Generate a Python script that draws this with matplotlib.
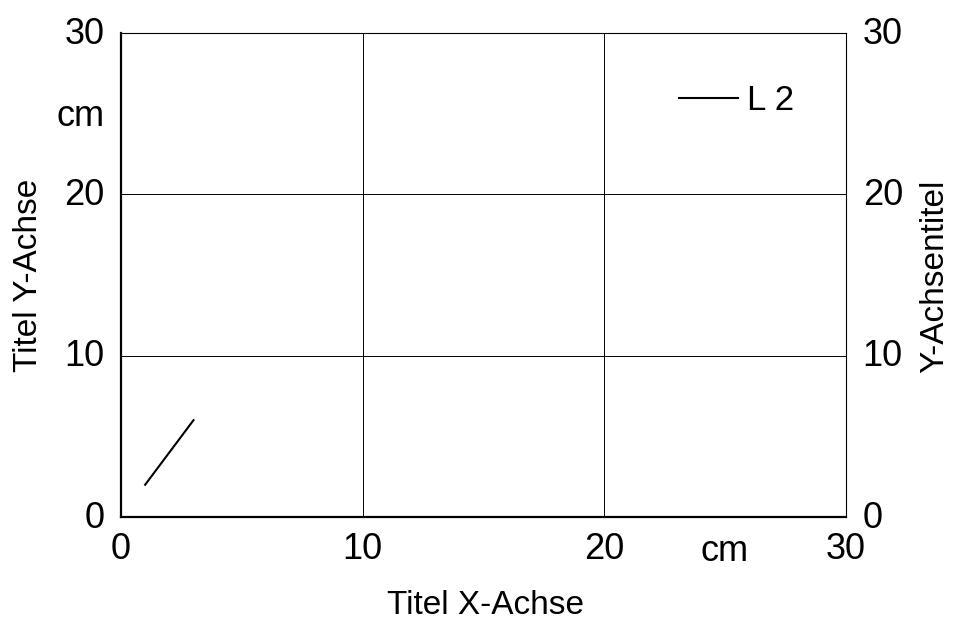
import matplotlib.pyplot as plt
from matplotlib.transforms import ScaledTranslation

# ------------------------------------------------------------
# Daten
# ------------------------------------------------------------
x_werte = [1, 3]
y_werte = [2, 6]
linien_name = "L 2"

x_ticks = [0, 10, 20, 30]
y_ticks = [0, 10, 20, 30]

x_titel = "Titel X-Achse"
y_titel = "Titel Y-Achse"
y2_titel = "Y-Achsentitel"
einheit = "cm"

plt.rcParams['font.family'] = ['Liberation Sans', 'DejaVu Sans']

# ------------------------------------------------------------
# Figur
# ------------------------------------------------------------
fig = plt.figure(figsize=(9.54, 6.22), dpi=100)
ax = fig.add_axes([0.1268, 0.1688, 0.7600, 0.7781])

ax.plot(x_werte, y_werte, color="black", lw=1.5, label=linien_name)

ax.set_xlim(0, 30)
ax.set_ylim(0, 30)
ax.set_xticks(x_ticks)
ax.set_yticks(y_ticks)
ax.grid(True, color="black", lw=0.7)

ax.tick_params(axis="both", length=0, labelsize=26, pad=11,
               left=True, right=True, labelleft=True, labelright=True)
ax.tick_params(axis="y", which="major", pad=12)

for s in ["left", "bottom"]:
    ax.spines[s].set_linewidth(1.6)
for s in ["top", "right"]:
    ax.spines[s].set_linewidth(0.8)

# y-Beschriftungen (links und rechts) etwas nach oben schieben
versatz = ScaledTranslation(0, 3 / 100, fig.dpi_scale_trans)
for t in ax.yaxis.get_major_ticks():
    t.label1.set_transform(t.label1.get_transform() + versatz)
    t.label2.set_transform(t.label2.get_transform() + versatz)

# Einheiten
ax.text(-0.023, 0.808, einheit, transform=ax.transAxes, fontsize=26,
        ha="right", va="baseline")
ax.text(0.833, -0.091, einheit, transform=ax.transAxes, fontsize=26,
        ha="center", va="baseline")

# Achsentitel
fig.text(0.5094, 0.0267, x_titel, fontsize=24, ha="center", va="center")
fig.text(0.0300, 0.5565, y_titel, fontsize=24, rotation=90,
         ha="center", va="center")
fig.text(0.980, 0.5565, y2_titel, fontsize=24, rotation=90,
         ha="center", va="center")

ax.legend(loc="center left", bbox_to_anchor=(0.770, 0.861), frameon=False,
          fontsize=25, handlelength=1.7, handletextpad=0.25,
          borderpad=0, borderaxespad=0)

plt.savefig("out.png", dpi=100)
